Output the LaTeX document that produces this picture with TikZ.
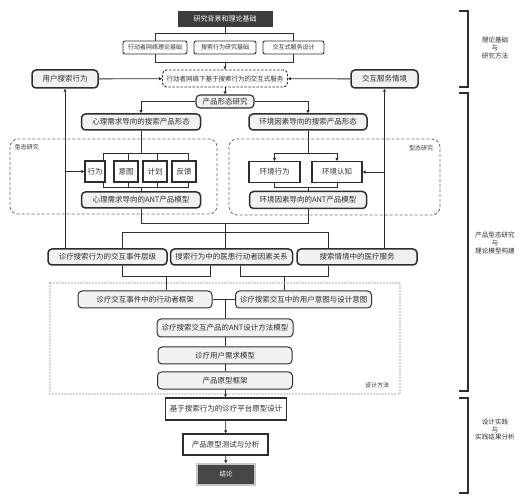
\documentclass[tikz,border=0pt]{standalone}
\usepackage{fontspec}
\setmainfont{Noto Sans CJK SC}
\usetikzlibrary{backgrounds,arrows.meta}
\definecolor{ink}{HTML}{2E2E2E}
\definecolor{boxfill}{HTML}{F1F1F1}
\definecolor{darkfill}{HTML}{3C3C3C}
\definecolor{regcol}{HTML}{6A6A6A}
\begin{document}
\begin{tikzpicture}[x=1pt,y=-1pt,
  font=\fontsize{7.5}{9}\selectfont, text=ink,
  every node/.style={inner sep=0pt, align=center},
  wh/.style n args={2}{minimum width=#1pt, minimum height=#2pt},
  rb/.style={draw=ink, line width=1.5pt, rounded corners=4pt, fill=boxfill},
  db/.style={draw=ink, line width=1pt, rounded corners=4pt, fill=boxfill},
  sb/.style={draw=ink, line width=0.9pt, rounded corners=2pt, fill=white, font=\fontsize{6}{7}\selectfont},
  svcst/.style={draw=ink, line width=0.9pt, dashed, dash pattern=on 2.5pt off 1.5pt, rounded corners=4pt, fill=white, font=\fontsize{6.5}{7.5}\selectfont},
  sq/.style={draw=ink, line width=1.1pt, fill=white},
  pb/.style={draw=ink, line width=1.3pt, fill=white},
  dark/.style={fill=darkfill, text=white, font=\fontsize{7}{8}\selectfont},
  concl/.style={fill=darkfill!95, draw=gray!45, line width=1.5pt, text=white, font=\fontsize{6.5}{8}\selectfont},
  lab/.style={font=\fontsize{6}{7}\selectfont},
  side/.style={font=\fontsize{6.6}{7.8}\selectfont},
  region/.style={draw=regcol, line width=0.8pt, dashed, dash pattern=on 3pt off 2pt, rounded corners=8pt},
  dotreg/.style={draw=gray!65, line width=1.6pt, line cap=round, dash pattern=on 0pt off 3pt},
  brk/.style={draw=ink, line width=1.6pt},
  conn/.style={draw=ink, line width=0.8pt},
  arr/.style={conn, -{Triangle[length=3pt,width=3pt]}}
]
\useasboundingbox (0,0) rectangle (523,500);

% regions
\draw[region] (10,139) rectangle (217,214);
\draw[region] (229,139) rectangle (440,215);
\draw[dotreg] (50,283) rectangle (400,394);
\node[lab] (lr) at (27,147) {型态研究};
\node[lab] (rr) at (421,148) {型态研究};
\node[lab] (dm) at (377,385) {设计方法};

% nodes
\node[dark, wh={95}{16}] (top) at (225,19) {研究背景和理论基础};
\node[sb, wh={64}{13}] (t1) at (155,47.5) {行动者网络理论基础};
\node[sb, wh={62}{13}] (t2) at (225,47.5) {搜索行为研究基础};
\node[sb, wh={61}{13}] (t3) at (293.5,47.5) {交互式服务设计};
\node[svcst, wh={125}{17}] (svc) at (225,78.5) {行动者网络下基于搜索行为的交互式服务};
\node[rb, wh={66}{18}] (user) at (65,79) {用户搜索行为};
\node[rb, wh={67}{18}] (scen) at (384.5,79) {交互服务情境};
\node[rb, wh={58}{13}, line width=1.1pt] (prod) at (225,101.5) {产品形态研究};
\node[rb, wh={119}{16}] (psy) at (141,122) {心理需求导向的搜索产品形态};
\node[rb, wh={118}{16}] (env) at (308,122) {环境因素导向的搜索产品形态};

\node[sq, wh={20}{21}] (xw) at (95,171.5) {行为};
\node[sq, wh={24}{21}] (yt) at (126,171.5) {意图};
\node[sq, wh={24}{21}] (jh) at (155,171.5) {计划};
\node[sq, wh={24}{21}] (fk) at (184,171.5) {反馈};
\node[sq, wh={51}{21}] (hx) at (274.5,172) {环境行为};
\node[sq, wh={50}{21}] (hr) at (337,172) {环境认知};
\node[rb, wh={119}{16}] (antl) at (141,200) {心理需求导向的ANT产品模型};
\node[rb, wh={117}{17}] (antr) at (308,200) {环境因素导向的ANT产品模型};

\node[rb, wh={119}{16}] (r1) at (107.5,257) {诊疗搜索行为的交互事件层级};
\node[rb, wh={122}{16}] (r2) at (231.5,257) {搜索行为中的医患行动者因素关系};
\node[rb, wh={120}{16}] (r3) at (357,257) {搜索情境中的医疗服务};

\node[db, wh={134}{17}] (d1) at (145,299.5) {诊疗交互事件中的行动者框架};
\node[db, wh={136}{17}] (d2) at (303.5,299.5) {诊疗搜索交互中的用户意图与设计意图};
\node[db, wh={136}{18}] (d3) at (225,328) {诊疗搜索交互产品的ANT设计方法模型};
\node[db, wh={134}{17}] (d4) at (225,355.5) {诊疗用户需求模型};
\node[db, wh={135}{17}] (d5) at (225,380.5) {产品原型框架};
\node[pb, wh={121}{22}] (b1) at (226,409) {基于搜索行为的诊疗平台原型设计};
\node[pb, wh={85}{21}] (b2) at (225.5,444.5) {产品原型测试与分析};
\node[concl, wh={58}{21}] (b3) at (226,474.5) {结论};

% side labels and brackets
\node[side] (s1) at (495,48) {理论基础\\与\\研究方法};
\node[side] (s2) at (495,243) {产品型态研究\\与\\理论模型构建};
\node[side] (s3) at (495,429.5) {设计实践\\与\\实践结果分析};
\draw[brk] (459,11) -- (468,11) -- (468,87) -- (459,87);
\draw[brk] (459,93) -- (468,93) -- (468,391) -- (459,391);
\draw[brk] (459,398) -- (468,398) -- (468,493) -- (459,493);

% connectors
\begin{scope}[on background layer]
\draw[conn] (top.south) -- (225,33);
\draw[conn] (t1.center |- 0,33) -- (t3.center |- 0,33) -- (t3.center |- 0,62) -- (t1.center |- 0,62) -- cycle;
\draw[arr] (t2.center |- 0,62) -- (svc.north);
\draw[arr] (user) -- (svc);
\draw[arr] (scen) -- (svc);
\draw[arr] (svc) -- (prod);
\draw[arr] (prod.west) -| (psy.north);
\draw[arr] (prod.east) -| (env.north);
% left inner
\draw[conn] (psy.south) -- (psy.south |- 0,153);
\draw[conn] (103,161) -- (103,153) -- (188,153) -- (188,161);
\draw[conn] (128,153) -- (128,161);
\draw[conn] (157,153) -- (157,161);
\draw[conn] (103,182) -- (103,187) -- (188,187) -- (188,182);
\draw[conn] (128,182) -- (128,187);
\draw[conn] (157,182) -- (157,187);
\draw[conn] (antl.north |- 0,187) -- (antl.north);
% right inner
\draw[conn] (env.south) -- (env.south |- 0,153);
\draw[conn] (hx.north |- 0,153) -- (hr.north |- 0,153);
\draw[arr] (hx.north |- 0,153) -- (hx.north);
\draw[arr] (hr.north |- 0,153) -- (hr.north);
\draw[conn] (hx.south) -- (hx.south |- 0,187) -- (hr.south |- 0,187) -- (hr.south);
\draw[conn] (antr.north |- 0,187) -- (antr.north);
% side feedback lines
\draw[arr] (user.south |- r1.north) -- (user.south);
\draw[arr] (user.south |- xw.west) -- (xw.west);
\draw[arr] (scen.south |- r3.north) -- (scen.south);
\draw[arr] (scen.south |- hr.east) -- (hr.east);
% to row r
\draw[conn] (antl.south) -- (antl.south |- 0,223) -- (antr.south |- 0,223) -- (antr.south);
\draw[conn] (225,223) -- (225,232);
\draw[conn] (r1.north -| 122,0) -- (122,232) -- (328,232) -- (r3.north -| 328,0);
\draw[conn] (225,232) -- (r2.north -| 225,0);
% to design boxes
\draw[conn] (r1.south -| 122,0) -- (122,276) -- (210,276) -- (r2.south -| 210,0);
\draw[conn] (166,276) -- (d1.north -| 166,0);
\draw[conn] (r2.south -| 240,0) -- (240,276) -- (328,276) -- (r3.south -| 328,0);
\draw[conn] (284,276) -- (d2.north -| 284,0);
\draw[conn] (d1.east) -- (d2.west);
\draw[conn] (d1.east -| d3.north) -- (d3.north);
\draw[conn] (d3) -- (d4);
\draw[conn] (d4) -- (d5);
\draw[arr] (d5) -- (b1);
\draw[arr] (b1) -- (b2);
\draw[arr] (b2) -- (b3);
\end{scope}
\end{tikzpicture}
\end{document}
